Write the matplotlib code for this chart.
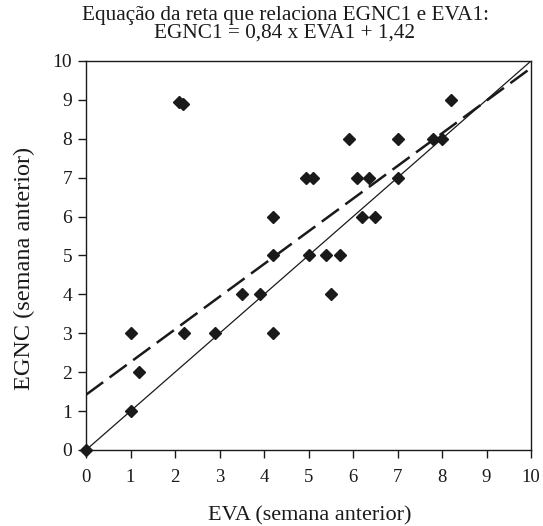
import numpy as np
import matplotlib.pyplot as plt

# EVA (semana anterior) vs EGNC (semana anterior)
eva = [0, 1.0, 1.2, 1.0, 2.2, 2.9, 4.2, 3.5, 3.9, 5.5, 4.2, 5.0, 5.4, 5.7,
       4.2, 6.2, 6.5, 4.95, 5.1, 6.1, 6.35, 7.0, 5.9, 7.0, 7.8, 8.0, 8.2,
       2.1, 2.18]
egnc = [0, 1, 2, 3, 3, 3, 3, 4, 4, 4, 5, 5, 5, 5,
        6, 6, 6, 7, 7, 7, 7, 7, 8, 8, 8, 8, 9,
        8.95, 8.9]

slope = 0.84
intercept = 1.42

plt.rcParams['font.family'] = ['Liberation Serif', 'DejaVu Serif']
ink = '#1a1a1a'

W, H = 543, 526
fig = plt.figure(figsize=(W / 100, H / 100), dpi=100)
ax = fig.add_axes([86 / W, 1 - 450 / H, 445 / W, 389 / H])

xs = np.array([0, 10])
ax.plot(xs, xs, color=ink, lw=0.9)
ax.plot(xs, slope * xs + intercept, color=ink, lw=1.8, dashes=(8.5, 3.2))
ax.plot(eva, egnc, 'D', color=ink, markersize=6.5, clip_on=False, zorder=3)

ax.set_xlim(0, 10)
ax.set_ylim(0, 10)
ax.set_xticks(range(11))
ax.set_yticks(range(11))
ax.tick_params(direction='out', length=6, width=1, colors=ink)
ax.tick_params(axis='x', labelsize=13.5, pad=8)
ax.tick_params(axis='y', labelsize=14, pad=4)
for s in ax.spines.values():
    s.set_linewidth(1.0)
    s.set_color(ink)

fig.text(310 / W, 1 - 520 / H, 'EVA (semana anterior)', fontsize=16,
         ha='center', va='baseline', color=ink)
fig.text(24 / W, 1 - 268 / H, 'EGNC (semana anterior)', fontsize=17.5,
         rotation=90, ha='center', va='center', color=ink)
fig.text(286 / W, 1 - 20 / H, 'Equação da reta que relaciona EGNC1 e EVA1:',
         fontsize=15.3, ha='center', va='baseline', color=ink)
fig.text(284 / W, 1 - 38 / H, 'EGNC1 = 0,84 x EVA1 + 1,42',
         fontsize=15.3, ha='center', va='baseline', color=ink)

fig.savefig('out.png', dpi=100)
